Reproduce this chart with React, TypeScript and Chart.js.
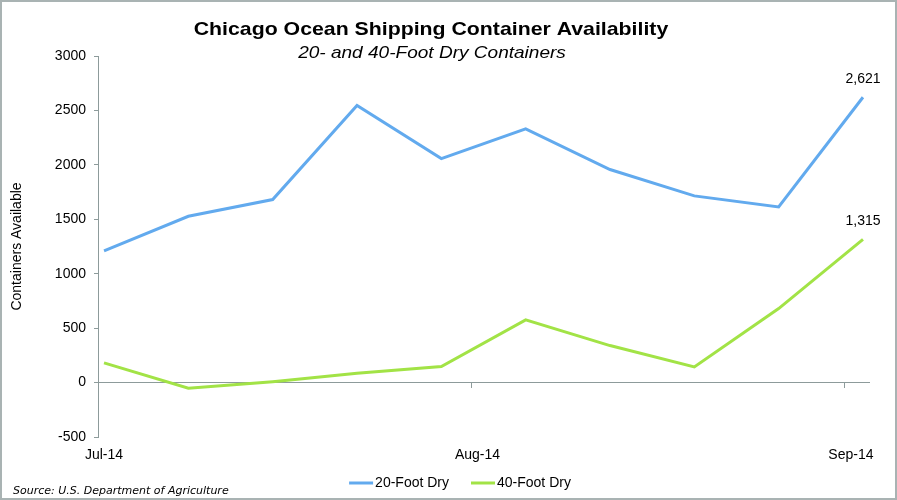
import React, { useEffect, useRef } from "react";
import { Chart, registerables } from "chart.js";

Chart.register(...registerables);

// ---- data ----
const startDate = "2014-07-01";
const weekDates = [
  "2014-07-01", "2014-07-08", "2014-07-15", "2014-07-22", "2014-07-29",
  "2014-08-05", "2014-08-12", "2014-08-19", "2014-08-26", "2014-09-02",
];
const foot20 = [1210, 1528, 1681, 2545, 2058, 2330, 1957, 1715, 1614, 2621];
const foot40 = [181, -52, 8, 85, 148, 576, 340, 144, 680, 1315];
const monthTickDates = ["2014-07-01", "2014-08-01", "2014-09-01"];
const monthTickLabels = ["Jul-14", "Aug-14", "Sep-14"];
const axisEndDate = "2014-09-03";
const yTicks = [-500, 0, 500, 1000, 1500, 2000, 2500, 3000];

const seriesNames = ["20-Foot Dry", "40-Foot Dry"];
const seriesColors = ["#62AAEE", "#A2E346"];

const titleText = "Chicago Ocean Shipping Container Availability";
const subtitleText = "20- and 40-Foot Dry Containers";
const yTitleText = "Containers Available";
const sourceText = "Source: U.S. Department of Agriculture";

const AXIS_COLOR = "#8d9b9b";
const FONT = "'Liberation Sans', Arial, Helvetica, sans-serif";

const dayOffset = (d: string) => (Date.parse(d) - Date.parse(startDate)) / 86400000;

function stretchText(ctx: CanvasRenderingContext2D, text: string, x: number, y: number, sx: number) {
  ctx.save();
  ctx.translate(x, y);
  ctx.scale(sx, 1);
  ctx.fillText(text, 0, 0);
  ctx.restore();
}

const decorPlugin = {
  id: "decor",
  beforeDraw(chart: any) {
    const ctx = chart.ctx as CanvasRenderingContext2D;
    ctx.save();
    ctx.fillStyle = "#ffffff";
    ctx.fillRect(0, 0, chart.width, chart.height);
    ctx.restore();
  },
  afterDatasetsDraw(chart: any) {
    const ctx = chart.ctx as CanvasRenderingContext2D;
    ctx.save();
    ctx.fillStyle = "#000";
    ctx.font = `14px ${FONT}`;
    ctx.textAlign = "center";
    ctx.textBaseline = "middle";
    chart.data.datasets.forEach((ds: any, i: number) => {
      const meta = chart.getDatasetMeta(i);
      const last = meta.data[meta.data.length - 1];
      const v = ds.data[ds.data.length - 1].y as number;
      ctx.fillText(v.toLocaleString("en-US"), last.x, last.y - 18);
    });
    ctx.restore();
  },
  afterDraw(chart: any) {
    const ctx = chart.ctx as CanvasRenderingContext2D;
    const W = chart.width;
    const H = chart.height;
    ctx.save();
    // frame
    ctx.strokeStyle = "#a9b3b3";
    ctx.lineWidth = 2;
    ctx.strokeRect(1, 1, W - 2, H - 2);

    // title
    ctx.fillStyle = "#000";
    ctx.textBaseline = "alphabetic";
    ctx.textAlign = "center";
    ctx.font = `bold 19px ${FONT}`;
    stretchText(ctx, titleText, 431, 35, 1.12);
    ctx.font = `italic 17px ${FONT}`;
    stretchText(ctx, subtitleText, 432, 58, 1.12);

    // legend
    ctx.textAlign = "left";
    ctx.textBaseline = "middle";
    ctx.font = `14px ${FONT}`;
    const lineW = 24;
    const gapLT = 2;
    const gapItems = 22;
    const widths = chart.data.datasets.map((ds: any) => ctx.measureText(ds.label).width);
    const total = widths.reduce((a: number, w: number) => a + lineW + gapLT + w, 0) + gapItems * (widths.length - 1);
    let x = 460 - total / 2;
    const ly = 483;
    chart.data.datasets.forEach((ds: any, i: number) => {
      ctx.strokeStyle = ds.borderColor;
      ctx.lineWidth = 3;
      ctx.beginPath();
      ctx.moveTo(x, ly);
      ctx.lineTo(x + lineW, ly);
      ctx.stroke();
      ctx.fillStyle = "#000";
      ctx.fillText(ds.label, x + lineW + gapLT, ly + 0.5);
      x += lineW + gapLT + widths[i] + gapItems;
    });

    // source
    ctx.font = `italic 11px 'DejaVu Sans', Verdana, sans-serif`;
    ctx.textAlign = "left";
    ctx.fillText(sourceText, 13, 491);
    ctx.restore();
  },
};

export default function App() {
  const ref = useRef<HTMLCanvasElement | null>(null);

  useEffect(() => {
    document.body.style.margin = "0";
    const canvas = ref.current;
    if (!canvas) return;
    const xMax = dayOffset(axisEndDate);
    const toPoints = (vals: number[]) =>
      vals.map((v, i) => ({ x: dayOffset(weekDates[i]) + 0.5, y: v }));

    const chart = new Chart(canvas, {
      type: "line",
      data: {
        datasets: [
          {
            label: seriesNames[0],
            data: toPoints(foot20),
            borderColor: seriesColors[0],
            backgroundColor: seriesColors[0],
            borderWidth: 3,
            pointRadius: 0,
            tension: 0,
            xAxisID: "x",
            yAxisID: "y",
          },
          {
            label: seriesNames[1],
            data: toPoints(foot40),
            borderColor: seriesColors[1],
            backgroundColor: seriesColors[1],
            borderWidth: 3,
            pointRadius: 0,
            tension: 0,
            xAxisID: "x",
            yAxisID: "y",
          },
        ],
      },
      options: {
        animation: false,
        responsive: false,
        devicePixelRatio: 1,
        layout: { padding: { top: 56, right: 28, bottom: 0, left: 0 } },
        plugins: {
          legend: { display: false },
          title: { display: false },
          tooltip: { enabled: false },
        },
        scales: {
          x: {
            type: "linear",
            position: { y: 0 } as any,
            min: 0,
            max: xMax,
            afterBuildTicks: (scale: any) => {
              scale.ticks = monthTickDates.map((d) => ({ value: dayOffset(d) }));
            },
            ticks: { display: false },
            grid: {
              display: true,
              drawOnChartArea: false,
              drawTicks: true,
              tickLength: 5,
              color: AXIS_COLOR,
              lineWidth: 1,
            },
            border: { display: true, color: AXIS_COLOR, width: 1 },
          },
          xb: {
            type: "linear",
            position: "bottom",
            min: 0,
            max: xMax,
            afterBuildTicks: (scale: any) => {
              scale.ticks = monthTickDates.map((d) => ({ value: dayOffset(d) + 0.5 }));
            },
            afterFit: (scale: any) => {
              scale.height = 63;
            },
            ticks: {
              autoSkip: false,
              maxRotation: 0,
              padding: 10,
              color: "#000",
              font: { family: FONT, size: 14 },
              callback: (v: any) => {
                const idx = monthTickDates.findIndex((d) => Math.abs(dayOffset(d) + 0.5 - Number(v)) < 0.01);
                return idx >= 0 ? monthTickLabels[idx] : "";
              },
            },
            grid: { display: false, drawTicks: false },
            border: { display: false },
          },
          y: {
            type: "linear",
            position: "left",
            min: -500,
            max: 3000,
            afterBuildTicks: (scale: any) => {
              scale.ticks = yTicks.map((v) => ({ value: v }));
            },
            afterFit: (scale: any) => {
              scale.width = 98;
            },
            ticks: {
              padding: 8,
              color: "#000",
              font: { family: FONT, size: 14 },
              callback: (v: any) => String(v),
            },
            grid: {
              display: true,
              drawOnChartArea: false,
              drawTicks: true,
              tickLength: 4,
              color: AXIS_COLOR,
            },
            border: { display: true, color: AXIS_COLOR, width: 1 },
            title: {
              display: true,
              text: yTitleText,
              color: "#000",
              font: { family: FONT, size: 14 },
              padding: { top: 9, bottom: 0 },
            },
          },
        },
      },
      plugins: [decorPlugin],
    });
    return () => chart.destroy();
  }, []);

  return (
    <div style={{ width: 897, height: 500 }}>
      <canvas ref={ref} width={897} height={500} style={{ display: "block" }} />
    </div>
  );
}
